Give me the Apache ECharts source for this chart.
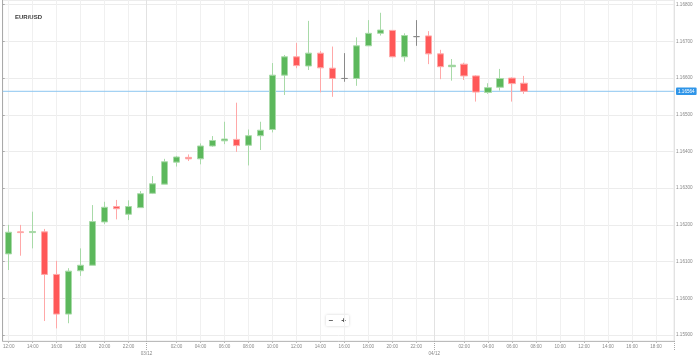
<!DOCTYPE html>
<html>
<head>
<meta charset="utf-8">
<script src="https://cdn.jsdelivr.net/npm/echarts@6/dist/echarts.min.js"></script>
<style>
html,body{margin:0;padding:0;background:#fff;}
#chart{width:699px;height:359px;}
</style>
</head>
<body>
<div id="chart"></div>
<script>
const chartTitle = 'EUR/USD';
const categories = [
  '02/12 12:00','02/12 13:00','02/12 14:00','02/12 15:00','02/12 16:00','02/12 17:00','02/12 18:00','02/12 19:00','02/12 20:00','02/12 21:00','02/12 22:00','02/12 23:00',
  '03/12 00:00','03/12 01:00','03/12 02:00','03/12 03:00','03/12 04:00','03/12 05:00','03/12 06:00','03/12 07:00','03/12 08:00','03/12 09:00','03/12 10:00','03/12 11:00',
  '03/12 12:00','03/12 13:00','03/12 14:00','03/12 15:00','03/12 16:00','03/12 17:00','03/12 18:00','03/12 19:00','03/12 20:00','03/12 21:00','03/12 22:00','03/12 23:00',
  '04/12 00:00','04/12 01:00','04/12 02:00','04/12 03:00','04/12 04:00','04/12 05:00','04/12 06:00','04/12 07:00','04/12 08:00','04/12 09:00','04/12 10:00','04/12 11:00',
  '04/12 12:00','04/12 13:00','04/12 14:00','04/12 15:00','04/12 16:00','04/12 17:00','04/12 18:00','04/12 19:00'
];
const opens  = [1.16121,1.16181,1.16179,1.16181,1.16065,1.15957,1.16075,1.16090,1.16208,1.16250,1.16229,1.16247,1.16286,1.16311,1.16371,1.16384,1.16380,1.16415,1.16429,1.16433,1.16417,1.16443,1.16460,1.16608,1.16658,1.16633,1.16668,1.16627,1.16599,1.16599,1.16688,1.16722,1.16730,1.16658,1.16713,1.16715,1.16666,1.16631,1.16638,1.16606,1.16561,1.16575,1.16600,1.16586];
const closes = [1.16180,1.16179,1.16182,1.16065,1.15957,1.16074,1.16090,1.16209,1.16248,1.16244,1.16250,1.16285,1.16312,1.16372,1.16385,1.16380,1.16415,1.16430,1.16434,1.16416,1.16443,1.16458,1.16608,1.16658,1.16634,1.16668,1.16628,1.16599,1.16599,1.16688,1.16722,1.16731,1.16658,1.16716,1.16713,1.16666,1.16631,1.16635,1.16606,1.16562,1.16574,1.16599,1.16585,1.16564];
const highs  = [1.16200,1.16200,1.16236,1.16189,1.16102,1.16082,1.16136,1.16254,1.16263,1.16268,1.16267,1.16292,1.16333,1.16380,1.16388,1.16392,1.16422,1.16442,1.16481,1.16533,1.16460,1.16481,1.16641,1.16663,1.16696,1.16756,1.16674,1.16686,1.16668,1.16711,1.16758,1.16778,1.16731,1.16722,1.16758,1.16728,1.16677,1.16652,1.16642,1.16608,1.16586,1.16625,1.16602,1.16606];
const lows   = [1.16077,1.16116,1.16136,1.15938,1.15918,1.15932,1.16061,1.16090,1.16202,1.16215,1.16213,1.16247,1.16284,1.16311,1.16359,1.16374,1.16365,1.16413,1.16420,1.16399,1.16362,1.16404,1.16452,1.16554,1.16627,1.16622,1.16561,1.16549,1.16590,1.16579,1.16688,1.16716,1.16657,1.16645,1.16688,1.16638,1.16597,1.16593,1.16595,1.16536,1.16557,1.16566,1.16536,1.16557];
const currentPrice = 1.16564;
const yMin = 1.158836, yMax = 1.168128;

const candleData = opens.map((o, i) => [o, closes[i], lows[i], highs[i]]);
const hourOf = c => c.split(' ')[1];
const dayOf = c => c.split(' ')[0];
const evenTick = (i) => i % 2 === 0;
const dayStart = (i) => hourOf(categories[i]) === '00:00';
const FONT = 'Liberation Sans';

const chart = echarts.init(document.getElementById('chart'), null, {renderer: 'canvas'});
chart.setOption({
  animation: false,
  backgroundColor: '#fff',
  title: {
    text: chartTitle, left: 10, top: 9,
    textStyle: {fontFamily: FONT, fontWeight: 'bold', fontSize: 6, color: '#3a3a3a'}
  },
  grid: {left: 0, right: 25, top: 0, bottom: 18, show: true, borderColor: '#e8e8e8', borderWidth: 1},
  xAxis: [{
    type: 'category', data: categories, boundaryGap: true, position: 'bottom',
    axisLine: {show: true, lineStyle: {color: '#bbb'}},
    axisTick: {show: true, alignWithLabel: true, interval: (i) => evenTick(i) && !dayStart(i), length: 2, lineStyle: {color: '#bbb'}},
    axisLabel: {
      interval: (i) => evenTick(i), margin: 3, fontSize: 4.6, color: '#888', fontFamily: FONT,
      formatter: (v) => hourOf(v) === '00:00' ? '{d|' + dayOf(v) + '}' : hourOf(v),
      rich: {d: {fontSize: 4.6, color: '#888', fontFamily: FONT, padding: [7, 12, 0, 0]}}
    },
    splitLine: {show: true, alignWithLabel: true, interval: (i) => evenTick(i) && !dayStart(i), lineStyle: {color: '#f0f0f0'}}
  }, {
    type: 'category', data: categories, boundaryGap: true, position: 'bottom',
    axisLine: {show: false}, axisLabel: {show: false},
    axisTick: {show: true, interval: (i) => dayStart(i), length: 10, lineStyle: {color: '#aaa', type: 'dotted'}},
    splitLine: {show: true, interval: (i) => dayStart(i), lineStyle: {color: '#e2e2e2'}}
  }, {
    type: 'value', min: 0, max: 1, show: false
  }],
  yAxis: {
    type: 'value', position: 'right', scale: true, min: yMin, max: yMax, splitNumber: 7,
    axisLine: {show: true, lineStyle: {color: '#aaa'}},
    axisTick: {show: true, length: 2, lineStyle: {color: '#aaa'}},
    axisLabel: {fontSize: 4.6, color: '#888', margin: 2, fontFamily: FONT,
      formatter: (v) => v.toFixed(5), showMinLabel: false, showMaxLabel: false},
    splitLine: {show: true, lineStyle: {color: '#ececec'}}
  },
  series: [{
    type: 'line', name: 'price', xAxisIndex: 2, yAxisIndex: 0, z: 1,
    data: [[0, currentPrice], [1, currentPrice]],
    symbol: 'none', silent: true,
    lineStyle: {color: '#8cc6f0', width: 1},
    endLabel: {show: true, distance: 2, formatter: () => currentPrice.toFixed(5),
      backgroundColor: '#2f95e8', color: '#fff', fontSize: 4.6, fontFamily: FONT, padding: [1.5, 2, 1, 2], borderRadius: 1}
  }, {
    type: 'candlestick', xAxisIndex: 0, yAxisIndex: 0, z: 2,
    data: candleData, barWidth: 7,
    itemStyle: {
      color: '#5cb85c', color0: '#ff5858',
      borderColor: '#a8daa8', borderColor0: '#ffa8a8', borderColorDoji: '#8a8a8a', borderWidth: 1
    }
  }],
  graphic: [{
    type: 'group', left: 326, top: 315,
    children: [
      {type: 'rect', shape: {x: 0, y: 0, width: 23, height: 11, r: 1}, style: {fill: '#fff', shadowBlur: 3, shadowColor: 'rgba(0,0,0,0.18)'}},
      {type: 'text', style: {text: '−', x: 5, y: 5.5, fill: '#555', fontSize: 8, fontWeight: 'bold', align: 'center', verticalAlign: 'middle'}},
      {type: 'text', style: {text: '+', x: 17.5, y: 5.5, fill: '#555', fontSize: 8, fontWeight: 'bold', align: 'center', verticalAlign: 'middle'}}
    ]
  }]
});
</script>
</body>
</html>
